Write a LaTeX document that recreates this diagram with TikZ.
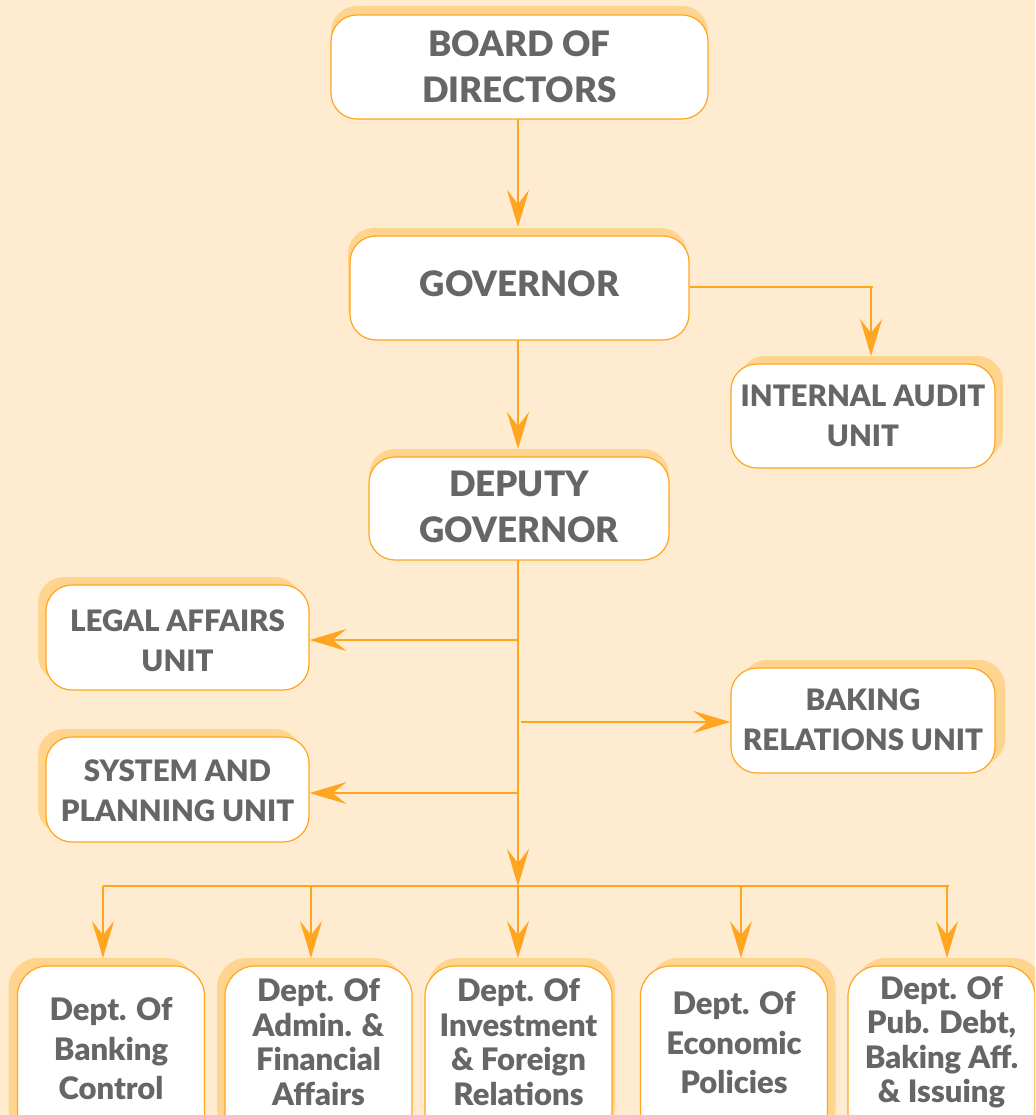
\documentclass[tikz,border=0pt]{standalone}
\usepackage{fontspec}
\setmainfont{Lato}[BoldFont={Lato Black}]
\usetikzlibrary{arrows.meta,shadows}
\definecolor{bg}{HTML}{FEEBD0}
\definecolor{ln}{HTML}{FFA51F}
\definecolor{sh}{HTML}{FFD48E}
\definecolor{tx}{HTML}{666666}
\begin{document}
\begin{tikzpicture}[x=1pt,y=-1pt,
  box/.style={draw=ln, line width=1.2pt, fill=white, rounded corners=26pt, inner sep=0pt},
  dbox/.style={box, rounded corners=30pt, minimum width=187pt, minimum height=180pt},
  sd/.style 2 args={drop shadow={shadow xshift=#1pt, shadow yshift=#2pt, fill=sh, opacity=1, draw=none}},
  txt/.style={align=center, text=tx, inner sep=0pt},
  big/.style={font=\bfseries\fontsize{35}{46}\selectfont},
  mid/.style={font=\bfseries\fontsize{29.5}{40}\selectfont},
  dep/.style={font=\bfseries\fontsize{31}{34.5}\selectfont},
  conn/.style={draw=ln, line width=1.5pt},
  arr/.style={-{Stealth[length=37pt,width=22pt,inset=14pt]}}]
\useasboundingbox (0,0) rectangle (1035,1115);
\fill[bg] (0,0) rectangle (1035,1115);
\clip (0,0) rectangle (1035,1115);

% top boxes
\node[box, sd={0}{9}, minimum width=377pt, minimum height=104pt] (board) at (519.5,67) {};
\node[txt, big] (boardt) at (board.center) {BOARD OF\\DIRECTORS};
\node[box, sd={-2}{8}, minimum width=339pt, minimum height=104pt] (gov) at (519.5,288) {};
\node[txt, big] (govt) at (519.5,284) {GOVERNOR};
\node[box, sd={8}{8}, minimum width=264pt, minimum height=104pt] (audit) at (863,416) {};
\node[txt, mid] (auditt) at (audit.center) {INTERNAL AUDIT\\UNIT};
\node[box, sd={0}{8}, minimum width=300pt, minimum height=103pt] (dep) at (519,508.5) {};
\node[txt, big] (dept) at (519,507) {DEPUTY\\GOVERNOR};
\node[box, sd={-8}{8}, minimum width=263pt, minimum height=105pt] (legal) at (177.5,637.5) {};
\node[txt, mid] (legalt) at (177.5,641) {LEGAL AFFAIRS\\UNIT};
\node[box, sd={10}{8}, minimum width=264pt, minimum height=105pt] (bake) at (863,720.5) {};
\node[txt, mid] (baket) at (863,720) {BAKING\\RELATIONS UNIT};
\node[box, sd={-8}{8}, minimum width=263pt, minimum height=105pt] (sys) at (177.5,789.5) {};
\node[txt, mid] (syst) at (177.5,791) {SYSTEM AND\\PLANNING UNIT};

% bottom boxes
\node[dbox, sd={-9}{8}] (b1) at (111,1056) {};
\node[txt, dep, font=\bfseries\fontsize{31}{39.5}\selectfont] (b1t) at (111,1049) {Dept. Of\\Banking\\Control};
\node[dbox, sd={-8}{8}] (b2) at (318.5,1056) {};
\node[txt, dep] (b2t) at (318.5,1042) {Dept. Of\\Admin. \&\\Financial\\Affairs};
\node[dbox, sd={3}{8}] (b3) at (518.5,1056) {};
\node[txt, dep] (b3t) at (518.5,1042) {Dept. Of\\Investment\\\& Foreign\\Relations};
\node[dbox, sd={8}{8}] (b4) at (734,1056) {};
\node[txt, dep, font=\bfseries\fontsize{31}{39.5}\selectfont] (b4t) at (734,1043) {Dept. Of\\Economic\\Policies};
\node[dbox, sd={8}{8}] (b5) at (941.5,1056) {};
\node[txt, dep] (b5t) at (941.5,1042) {Dept. Of\\Pub. Debt,\\Baking Aff.\\\& Issuing};

% connector points
\coordinate (auditin) at (871,356);
\coordinate (bus) at (518,886);
\coordinate (busL) at (103,886);
\coordinate (busR) at (949,886);
\coordinate (j1) at (518,640);
\coordinate (j2) at (521,722);
\coordinate (j3) at (518,793);
\coordinate (d1) at (103,886);
\coordinate (d2) at (311,886);
\coordinate (d3) at (518,886);
\coordinate (d4) at (741,886);
\coordinate (d5) at (947,886);
\coordinate (tgt) at (0,958);

% connectors
\draw[conn, arr] (518,119) -- (518,227);
\draw[conn] (gov.east |- 0,287) -- (873,287);
\draw[conn, arr] (871,287) -- (auditin);
\draw[conn, arr] (518,340) -- (518,449);
\draw[conn, arr] (518,560) -- (bus);
\draw[conn] (bus) -- ++(0,5);
\draw[conn, arr] (j1) -- (j1 -| legal.east);
\draw[conn, arr] (j2) -- (j2 -| bake.west);
\draw[conn, arr] (j3) -- (j3 -| sys.east);
\draw[conn] (busL) -- (busR);
\draw[conn, arr] (d1) -- (d1 |- tgt);
\draw[conn, arr] (d2) -- (d2 |- tgt);
\draw[conn, arr] (d3) -- (d3 |- tgt);
\draw[conn, arr] (d4) -- (d4 |- tgt);
\draw[conn, arr] (d5) -- (d5 |- tgt);
\end{tikzpicture}
\end{document}
